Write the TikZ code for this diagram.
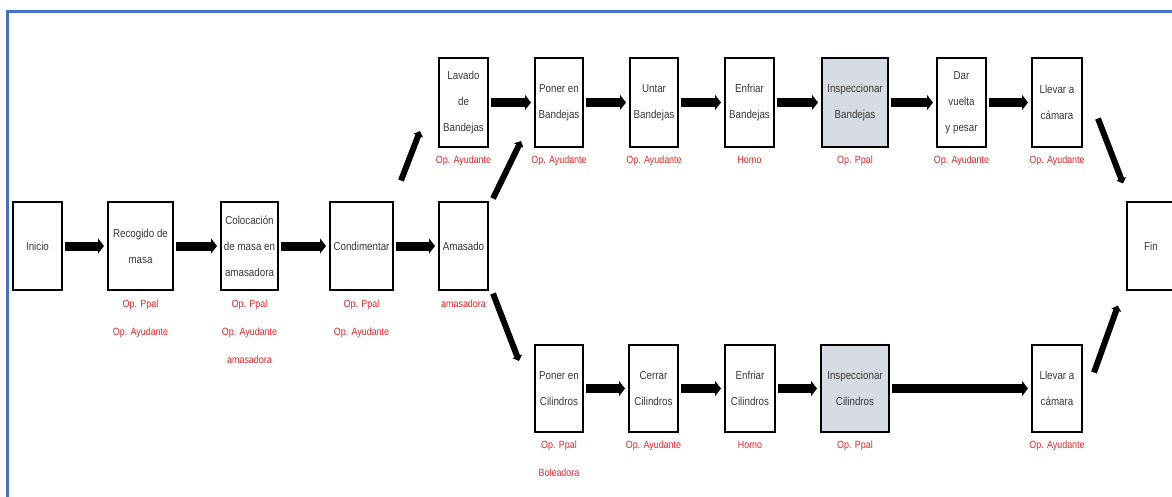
\documentclass[tikz,border=0pt]{standalone}
\usepackage{fontspec}
\setmainfont{Liberation Sans}[FakeStretch=0.85]
\usetikzlibrary{arrows.meta,calc}
\definecolor{frameblue}{RGB}{68,114,196}
\definecolor{lblred}{RGB}{235,40,45}
\definecolor{inspfill}{RGB}{214,219,228}
\definecolor{boxtext}{RGB}{55,55,55}
\begin{document}
\begin{tikzpicture}[x=1pt,y=-1pt,
  box/.style={draw=black,line width=2pt,fill=white,minimum width=49,minimum height=87,inner sep=1pt,align=center,font=\fontsize{11.5}{26}\selectfont,text=boxtext},
  insp/.style={box,fill=inspfill},
  lbl/.style={text=lblred,align=center,font=\fontsize{10.5}{28}\selectfont,inner sep=0pt,anchor=north},
  arr/.style={line width=9pt,-{Triangle[length=6pt,width=15pt]},shorten <=2pt,shorten >=3pt},
  darr/.style={arr,line width=6pt,-{Triangle[length=5pt,width=10pt]},shorten <=0pt,shorten >=0pt}]
\useasboundingbox (0,0) rectangle (1172,497);
\fill[white] (0,0) rectangle (1172,497);
\draw[frameblue,line width=3pt] (7,505) -- (7,12) -- (1180,12);

% middle row
\node[box] (ini) at (37.5,246) {Inicio};
\node[box,minimum width=65] (rec) at (140.5,246) {Recogido de\\masa};
\node[box,minimum width=57] (col) at (249.5,246) {Colocación\\de masa en\\amasadora};
\node[box,minimum width=63] (cond) at (361.5,246) {Condimentar};
\node[box] (ama) at (463.5,246) {Amasado};
\node[box,minimum width=48] (fin) at (1151,246) {Fin};

% top row
\node[box,minimum height=89] (lav) at (463.5,102.5) {Lavado\\de\\Bandejas};
\node[box,minimum width=48,minimum height=89] (pb) at (559,102.5) {Poner en\\Bandejas};
\node[box,minimum width=48,minimum height=89] (ub) at (654,102.5) {Untar\\Bandejas};
\node[box,minimum height=89] (eb) at (749.5,102.5) {Enfriar\\Bandejas};
\node[insp,minimum width=66,minimum height=89] (ib) at (855,102.5) {Inspeccionar\\Bandejas};
\node[box,minimum height=89] (dv) at (961.5,102.5) {Dar\\vuelta\\y pesar};
\node[box,minimum width=50,minimum height=89] (lc1) at (1057,102.5) {Llevar a\\cámara};

% bottom row
\node[box,minimum width=48] (pc) at (559,388.5) {Poner en\\Cilindros};
\node[box] (cc) at (653.5,388.5) {Cerrar\\Cilindros};
\node[box,minimum width=50] (ec) at (750,388.5) {Enfriar\\Cilindros};
\node[insp,minimum width=68] (ic) at (855,388.5) {Inspeccionar\\Cilindros};
\node[box,minimum width=50] (lc2) at (1057,388.5) {Llevar a\\cámara};

% labels
\node[lbl] (l-rec) at (140.5,300) {Op. Ppal\\Op. Ayudante};
\node[lbl] (l-col) at (249.5,300) {Op. Ppal\\Op. Ayudante\\amasadora};
\node[lbl] (l-cond) at (361.5,300) {Op. Ppal\\Op. Ayudante};
\node[lbl] (l-ama) at (463.5,300) {amasadora};
\node[lbl] (l-lav) at (463.5,156) {Op. Ayudante};
\node[lbl] (l-pb) at (559,156) {Op. Ayudante};
\node[lbl] (l-ub) at (654,156) {Op. Ayudante};
\node[lbl] (l-eb) at (749.5,156) {Horno};
\node[lbl] (l-ib) at (855,156) {Op. Ppal};
\node[lbl] (l-dv) at (961.5,156) {Op. Ayudante};
\node[lbl] (l-lc1) at (1057,156) {Op. Ayudante};
\node[lbl] (l-pc) at (559,441) {Op. Ppal\\Boleadora};
\node[lbl] (l-cc) at (653.5,441) {Op. Ayudante};
\node[lbl] (l-ec) at (750,441) {Horno};
\node[lbl] (l-ic) at (855,441) {Op. Ppal};
\node[lbl] (l-lc2) at (1057,441) {Op. Ayudante};

% horizontal arrows
\draw[arr] (ini) -- (rec);
\draw[arr] (rec) -- (col);
\draw[arr] (col) -- (cond);
\draw[arr] (cond) -- (ama);
\draw[arr] (lav) -- (pb);
\draw[arr] (pb) -- (ub);
\draw[arr] (ub) -- (eb);
\draw[arr] (eb) -- (ib);
\draw[arr] (ib) -- (dv);
\draw[arr] (dv) -- (lc1);
\draw[arr] (pc) -- (cc);
\draw[arr] (cc) -- (ec);
\draw[arr] (ec) -- (ic);
\draw[arr] (ic) -- (lc2);

% diagonal arrows
\draw[darr] ([shift={(7,-21)}]cond.north east) -- ([shift={(-18,-17)}]lav.south west);
\draw[darr] ([shift={(4,-3)}]ama.north east) -- ([shift={(-13,-7)}]pb.south west);
\draw[darr] ([shift={(4,3)}]ama.south east) -- ([shift={(-15,17)}]pc.north west);
\draw[darr] ([shift={(15,16)}]lc1.east) -- ([shift={(-3,-18)}]fin.north west);
\draw[darr] ([shift={(11,-16)}]lc2.east) -- ([shift={(-8,15)}]fin.south west);
\end{tikzpicture}
\end{document}
